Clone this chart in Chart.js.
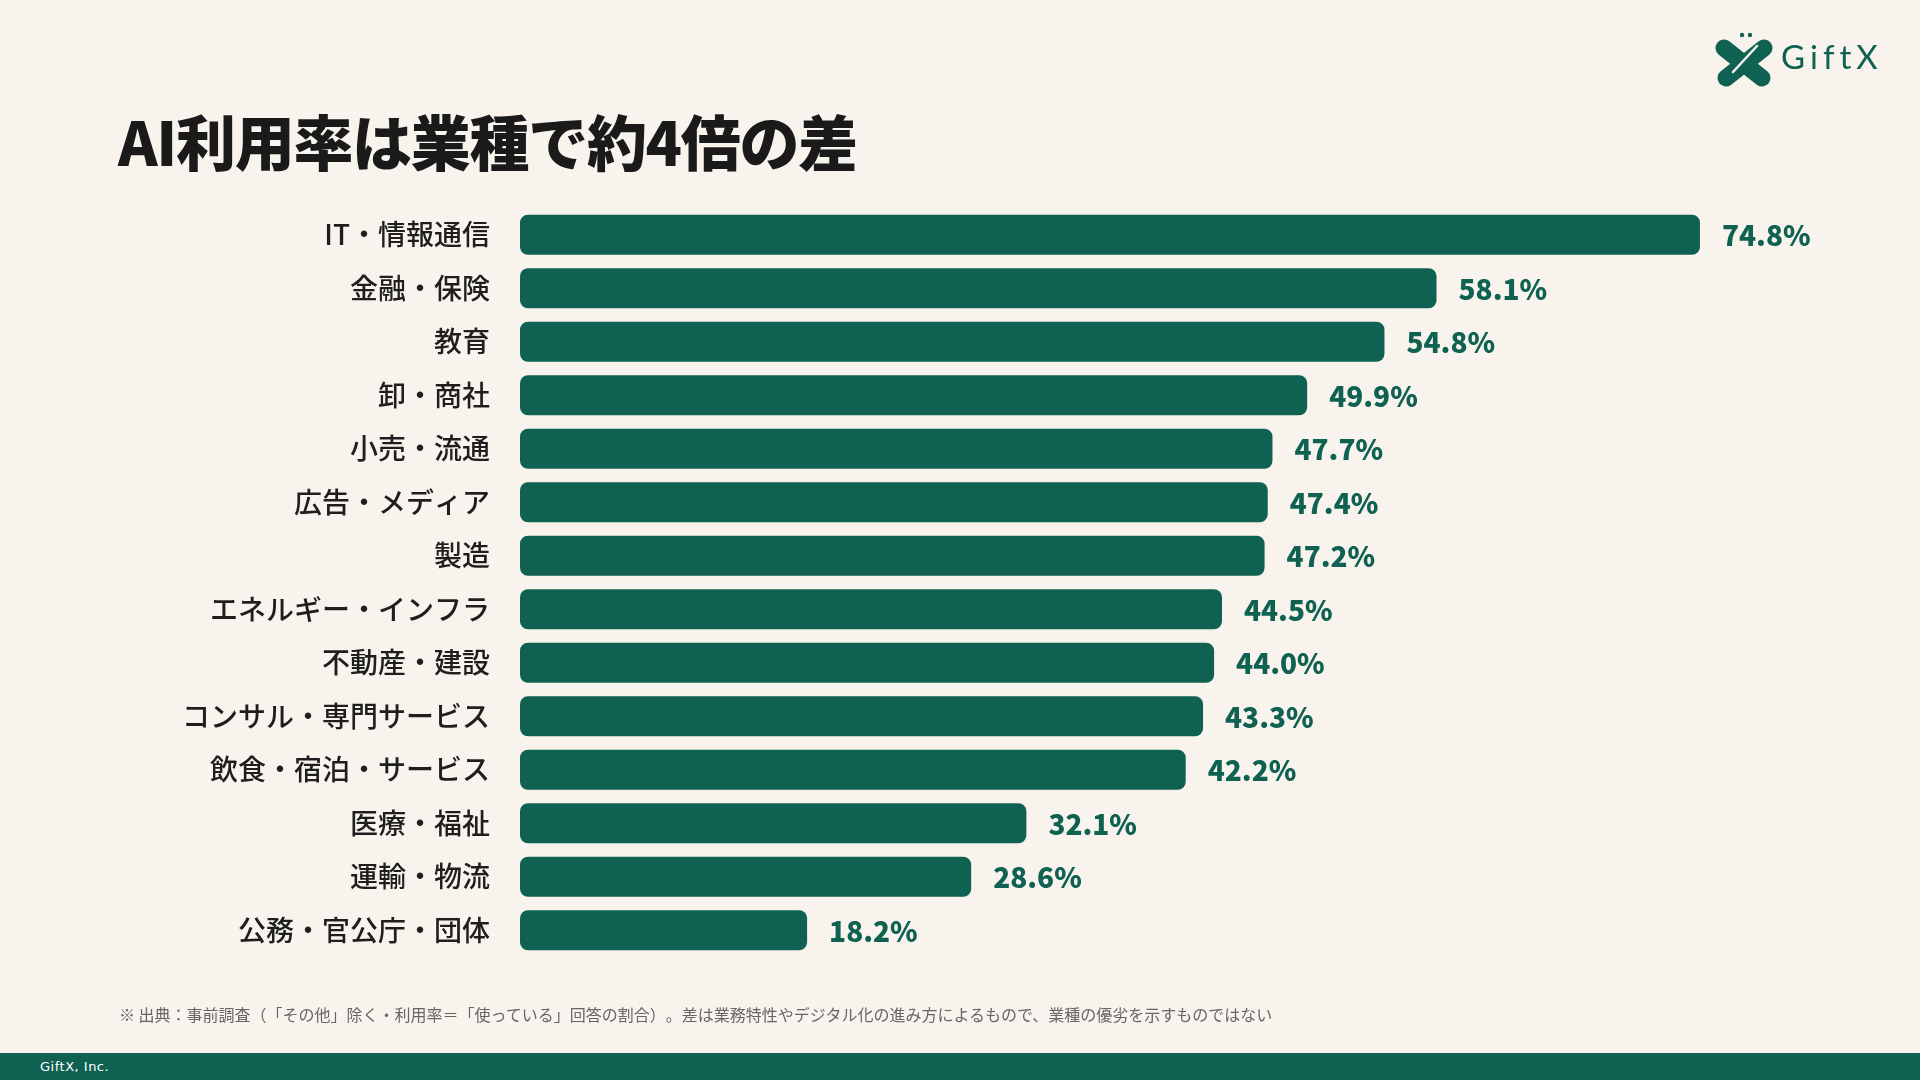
<!DOCTYPE html>
<html lang="ja">
<head>
<meta charset="utf-8">
<script src="https://cdn.jsdelivr.net/npm/chart.js@4.4.1/dist/chart.umd.min.js"></script>
<style>
  html, body { margin: 0; padding: 0; }
  body { width: 1920px; height: 1080px; background: #f8f4ed; position: relative; overflow: hidden; font-family: "Noto Sans CJK JP", "Noto Sans", sans-serif; }
  #myChart { position: absolute; left: 0; top: 0; }
  .titulo { position: absolute; left: 118px; top: 110px; font-size: 60px; line-height: 1; font-weight: 900; color: #1a1a1a; letter-spacing: -1.3px; }
  .logo-texto { position: absolute; left: 1781px; top: 40px; font-family: Lato, sans-serif; font-size: 33px; line-height: 1; color: #0f6151; letter-spacing: 5px; }
  .nota { position: absolute; left: 119px; top: 1005px; font-size: 16px; line-height: 1.2; color: #666; text-spacing-trim: space-all; white-space: nowrap; }
  .rodape { position: absolute; left: 0; top: 1053px; width: 1920px; height: 27px; background: #0f6151; }
  .rodape span { position: absolute; left: 40px; top: 6px; font-family: "DejaVu Sans", sans-serif; font-size: 13px; line-height: 1.2; color: #fff; letter-spacing: 0.5px; }
</style>
</head>
<body>
<canvas id="myChart" width="1920" height="1080"></canvas>
<div class="titulo">AI利用率は業種で約4倍の差</div>
<div class="logo-texto">GiftX</div>
<div class="nota">※ 出典：事前調査（「その他」除く・利用率＝「使っている」回答の割合）。差は業務特性やデジタル化の進み方によるもので、業種の優劣を示すものではない</div>
<div class="rodape"><span>GiftX, Inc.</span></div>
<script>
const categorias = [
    'IT・情報通信', '金融・保険', '教育', '卸・商社', '小売・流通', '広告・メディア', '製造',
    'エネルギー・インフラ', '不動産・建設', 'コンサル・専門サービス', '飲食・宿泊・サービス',
    '医療・福祉', '運輸・物流', '公務・官公庁・団体'
];
const taxas = [74.8, 58.1, 54.8, 49.9, 47.7, 47.4, 47.2, 44.5, 44.0, 43.3, 42.2, 32.1, 28.6, 18.2];

const VERDE = '#0f6151';

// rótulos de valor no fim de cada barra
const rotulosValor = {
    id: 'rotulosValor',
    afterDatasetsDraw(chart) {
        const ctx = chart.ctx;
        const meta = chart.getDatasetMeta(0);
        ctx.save();
        ctx.fillStyle = VERDE;
        ctx.font = '800 28px "Noto Sans CJK JP", sans-serif';
        ctx.textAlign = 'left';
        ctx.textBaseline = 'middle';
        meta.data.forEach(function (barra, i) {
            ctx.fillText(taxas[i].toFixed(1) + '%', barra.x + 22, barra.y + 1);
        });
        ctx.restore();
    }
};

// marca (X) do logo
const marcaLogo = {
    id: 'marcaLogo',
    afterDraw(chart) {
        const ctx = chart.ctx;
        ctx.save();
        ctx.lineCap = 'round';
        ctx.strokeStyle = VERDE;
        ctx.lineWidth = 17;
        ctx.beginPath();
        ctx.moveTo(1724, 48); ctx.lineTo(1762, 78);
        ctx.moveTo(1764, 48); ctx.lineTo(1726, 78);
        ctx.stroke();
        ctx.strokeStyle = '#f8f4ed';
        ctx.lineWidth = 2.5;
        ctx.beginPath();
        ctx.moveTo(1757, 46); ctx.lineTo(1733, 72);
        ctx.stroke();
        ctx.fillStyle = VERDE;
        ctx.beginPath();
        ctx.arc(1742, 35, 2.2, 0, Math.PI * 2);
        ctx.arc(1750, 35, 2.2, 0, Math.PI * 2);
        ctx.fill();
        ctx.restore();
    }
};

const config = {
    type: 'bar',
    data: {
        labels: categorias,
        datasets: [{
            data: taxas,
            backgroundColor: VERDE,
            borderRadius: 8,
            borderSkipped: false,
            barPercentage: 0.75,
            categoryPercentage: 1
        }]
    },
    options: {
        indexAxis: 'y',
        responsive: false,
        animation: false,
        layout: {
            padding: { top: 208, bottom: 123, left: 0, right: 138 }
        },
        scales: {
            x: {
                display: false,
                min: 0,
                max: 80
            },
            y: {
                grid: { display: false, drawTicks: false },
                border: { display: false },
                ticks: {
                    padding: 30,
                    color: '#1e1e1e',
                    font: { family: '"Noto Sans CJK JP"', size: 28, weight: '500' }
                },
                afterFit: function (escala) {
                    escala.width = 520;
                }
            }
        },
        plugins: {
            legend: { display: false },
            tooltip: { enabled: false }
        }
    },
    plugins: [rotulosValor, marcaLogo]
};

new Chart(document.getElementById('myChart').getContext('2d'), config);
</script>
</body>
</html>
